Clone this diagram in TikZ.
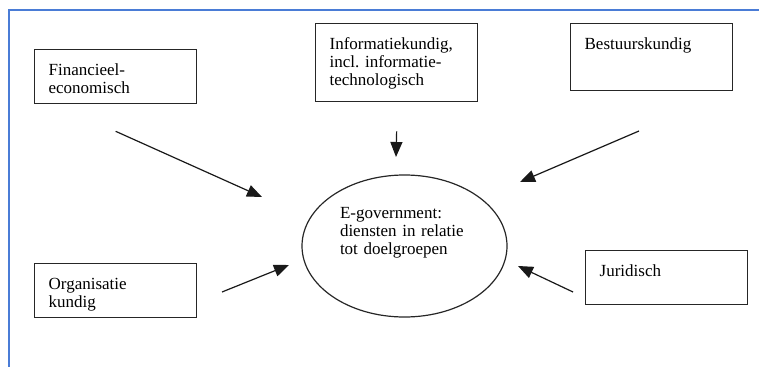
\documentclass[tikz,border=0pt]{standalone}
\usepackage{fontspec}
\setmainfont{Liberation Serif}
\usetikzlibrary{shapes.geometric,arrows.meta,positioning}
\definecolor{frameblue}{RGB}{74,124,214}
\frenchspacing

\begin{document}
\begin{tikzpicture}[
    x=1pt, y=-1pt,
    font=\fontsize{17}{18}\selectfont,
    discbox/.style={rectangle, draw=black!85, line width=1.3pt, anchor=north west,
                    text width=134pt, align=left, inner xsep=14pt, inner ysep=0pt,
                    text height=26pt},
    centre/.style={ellipse, draw=black!85, line width=1.2pt, minimum width=205pt,
                   minimum height=142pt, inner sep=0pt, text width=129pt,
                   align=left, text height=11.3pt, text depth=66.7pt},
    arrow/.style={-{Triangle[length=15pt, width=12pt]}, line width=1.2pt, black!90}
]
\useasboundingbox (0,0) rectangle (759,367);
\draw[frameblue, line width=1.6pt] (759,10) -- (9,10) -- (9,367);

% disciplines round the centre
\node[discbox, text depth=28pt] (fin)  at (34,49)  {Financieel-\\economisch};
\node[discbox, text depth=52pt] (info) at (315,23) {Informatiekundig,\\incl. informatie-\\technologisch};
\node[discbox, text depth=41pt] (best) at (570,23) {Bestuurskundig};
\node[discbox, text depth=28pt] (org)  at (34,263) {Organisatie\\kundig};
\node[discbox, text depth=28pt] (jur)  at (585,250) {Juridisch};

\node[centre] (egov) at (404.5,246)
    {E-government:\\diensten in relatie\\tot doelgroepen};

% free ends of the arrows
\coordinate (fin-tail)  at ([yshift=-27pt]fin.south);
\coordinate (info-tail) at ([yshift=-29pt]info.south);
\coordinate (best-tail) at (639,131);
\coordinate (org-tail)  at (222,292);
\coordinate (jur-tail)  at (573,292);
\coordinate (fin-tip)   at (262,197);
\coordinate (info-tip)  at (396,157);
\coordinate (best-tip)  at (520,182);
\coordinate (org-tip)   at (289,265);
\coordinate (jur-tip)   at (518,266);

\draw[arrow] (fin-tail)  -- (fin-tip);
\draw[arrow] (info-tail) -- (info-tip);
\draw[arrow] (best-tail) -- (best-tip);
\draw[arrow] (org-tail)  -- (org-tip);
\draw[arrow] (jur-tail)  -- (jur-tip);
\end{tikzpicture}
\end{document}
